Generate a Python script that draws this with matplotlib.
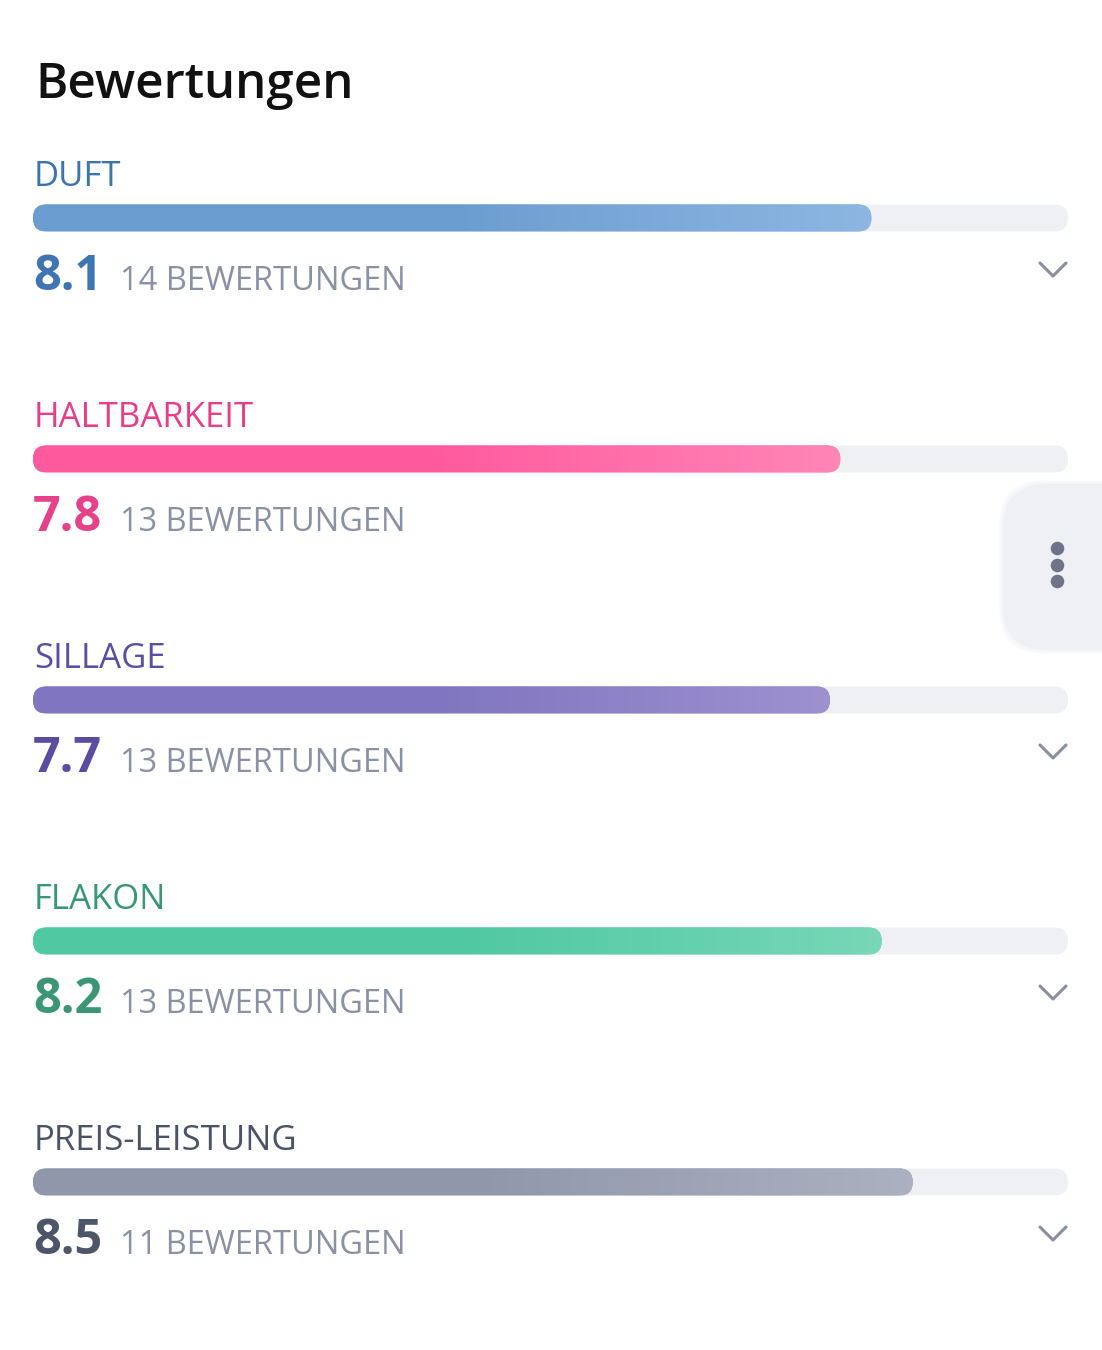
import numpy as np
import matplotlib.pyplot as plt
from matplotlib.patches import FancyBboxPatch
from matplotlib.colors import LinearSegmentedColormap

# Data
categories = ["DUFT", "HALTBARKEIT", "SILLAGE", "FLAKON", "PREIS-LEISTUNG"]
scores = [8.1, 7.8, 7.7, 8.2, 8.5]
counts = [14, 13, 13, 13, 11]
max_score = 10

# Styles
label_colors = ["#3d74ad", "#e63f88", "#5c4ea1", "#3a9676", "#4b5366"]
score_colors = ["#3f74b2", "#e6428a", "#5b4ca0", "#3a9674", "#4d5568"]
bar_left = ["#6c9dd0", "#ff5a9e", "#8075c0", "#50c8a2", "#9097ab"]
bar_right = ["#8db6e2", "#ff86b7", "#9d91d0", "#77d7b7", "#abb1c0"]
count_color = "#8a91a4"
track_color = "#eff0f4"

plt.rcParams['font.family'] = ['Open Sans', 'DejaVu Sans']

W, H = 1102, 1350
X0, TRACK_W = 33, 1035          # pixel start / length of the 0..10 track
UNIT = TRACK_W / max_score      # pixels per score unit
BAR_H = 27
ROW0, ROW_STEP = 218, 241


def px(p):
    """pixel x -> score units"""
    return (p - X0) / UNIT


fig = plt.figure(figsize=(W / 100, H / 100), dpi=100)
ax = fig.add_axes([0, 0, 1, 1])
ax.set_xlim(px(0), px(W))
ax.set_ylim(H, 0)
ax.axis('off')

ax.text(px(35), 98, "Bewertungen", fontsize=35.5, fontweight='semibold',
        color='#111111', va='baseline')

grad = np.linspace(0, 1, 256).reshape(1, -1)

for i, (cat, val, n) in enumerate(zip(categories, scores, counts)):
    yc = ROW0 + i * ROW_STEP
    ax.text(px(34), yc - 32, cat, fontsize=25, color=label_colors[i], va='baseline')

    r = BAR_H / 2 / UNIT
    track = FancyBboxPatch((0, yc - BAR_H / 2), max_score, BAR_H,
                           boxstyle=f"round,pad=0,rounding_size={r * 0.999}",
                           mutation_aspect=UNIT, fc=track_color, ec='none')
    ax.add_patch(track)

    bar = FancyBboxPatch((0, yc - BAR_H / 2), val, BAR_H,
                         boxstyle=f"round,pad=0,rounding_size={r * 0.999}",
                         mutation_aspect=UNIT, fc=bar_left[i], ec='none')
    ax.add_patch(bar)
    cmap = LinearSegmentedColormap.from_list(
        cat, [bar_left[i], bar_left[i], bar_right[i]])
    im = ax.imshow(grad, cmap=cmap, aspect='auto', interpolation='bilinear',
                   extent=(0, val, yc + BAR_H / 2, yc - BAR_H / 2), zorder=3)
    im.set_clip_path(bar)

    ax.text(px(33), yc + 72, f"{val:.1f}", fontsize=35, fontweight='bold',
            color=score_colors[i], va='baseline')
    ax.text(px(120), yc + 72, f"{n} BEWERTUNGEN", fontsize=23.5,
            color=count_color, va='baseline')

    if i != 1:
        cy = yc + 52
        ax.plot([px(1040), px(1053), px(1066)], [cy - 7, cy + 6, cy - 7],
                color='#8a8ea0', lw=2.2, solid_capstyle='round',
                solid_joinstyle='round', zorder=4)

ax.set_xlim(px(0), px(W))
ax.set_ylim(H, 0)

# floating side button with soft shadow
rb = 45 / UNIT
for k, a in enumerate([0.25, 0.35, 0.5]):
    g = 4 - k
    sh = FancyBboxPatch((px(1003 - g), 484 - g), px(1160) - px(1003 - g), 166 + 2 * g,
                        boxstyle=f"round,pad=0,rounding_size={rb}",
                        mutation_aspect=UNIT, fc='#f4f5f8', ec='none',
                        alpha=a, zorder=5)
    ax.add_patch(sh)
btn = FancyBboxPatch((px(1003), 484), px(1160) - px(1003), 166,
                     boxstyle=f"round,pad=0,rounding_size={rb}",
                     mutation_aspect=UNIT, fc='#eff0f4', ec='none', zorder=6)
ax.add_patch(btn)
ax.scatter([px(1057)] * 3, [548, 565, 581], s=95, color='#6d7388',
           zorder=7, linewidths=0)

fig.savefig("out.png", dpi=100, facecolor='white')
